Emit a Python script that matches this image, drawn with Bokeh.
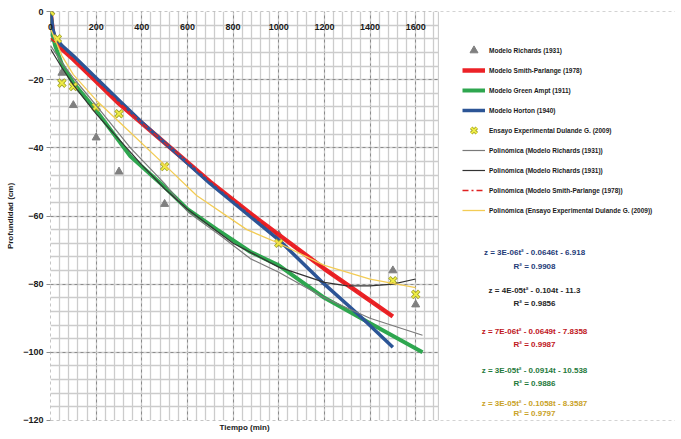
from bokeh.plotting import figure
from bokeh.models import (FixedTicker, Range1d, Legend, LegendItem, Label, LinearAxis,
                          BoxAnnotation)
from bokeh.embed import file_html
from bokeh.resources import INLINE

# ---------------- data ----------------
x_ticks = [0, 200, 400, 600, 800, 1000, 1200, 1400, 1600]
y_ticks = [-120, -100, -80, -60, -40, -20, 0]

t_richards = [0, 20, 50, 100, 200, 300, 500, 1000, 1500, 1600]
z_richards = [0, -8, -18, -27.5, -37, -47, -56.5, -65.5, -76, -86]

t_ensayo = [0, 30, 50, 100, 200, 300, 500, 1000, 1500, 1600]
z_ensayo = [0, -8, -21, -22, -28, -30, -45.5, -68, -79, -83]

t_smith = [0, 10, 20, 50, 100, 200, 300, 500, 700, 900, 1000, 1200, 1350, 1500]
z_smith = [0, -6, -8, -11, -14, -20.5, -27, -38.5, -50, -60.5, -65.5, -75.5, -82.5, -89.5]

t_green = [0, 10, 20, 50, 100, 200, 350, 500, 600, 730, 875, 1000, 1200, 1400, 1630]
z_green = [0, -7, -10, -15.5, -21, -29, -42.5, -51.5, -58, -64, -70.5, -74.5, -84, -91.5, -100]

t_horton = [0, 10, 20, 50, 100, 200, 300, 400, 500, 700, 900, 1000, 1200, 1350, 1500]
z_horton = [0, -5, -7.5, -10, -13, -19.5, -26, -32.5, -38.5, -50.5, -61.5, -67, -80, -89, -98.5]

t_poly_rich1 = [0, 50, 100, 200, 350, 500, 605, 750, 875, 1000, 1200, 1400, 1630]
z_poly_rich1 = [-10, -15, -19.5, -27.5, -40, -50.5, -59, -66, -72.5, -76.5, -84, -90, -95]

t_poly_rich2 = [0, 50, 100, 200, 300, 400, 500, 600, 800, 1000, 1200, 1300, 1400, 1500, 1600]
z_poly_rich2 = [-11, -16.5, -21.5, -30, -37.5, -45, -52, -58, -68, -75, -79.5, -80.5, -80.5, -80, -78.5]

t_poly_smith = [0, 100, 200, 300, 500, 700, 900, 1100, 1300, 1500]
z_poly_smith = [-7.8, -14, -20.5, -26.7, -38.5, -49.8, -60.7, -70.7, -80.3, -89.4]

t_poly_ens = [0, 50, 100, 200, 350, 500, 640, 860, 1000, 1200, 1400, 1600]
z_poly_ens = [-5, -13, -18.5, -26, -35.5, -45, -54, -64, -68, -74.5, -78.5, -81]

legend_labels = [
    "Modelo Richards (1931)",
    "Modelo Smith-Parlange (1978)",
    "Modelo Green Ampt (1911)",
    "Modelo Horton (1940)",
    "Ensayo Experimental Dulande G. (2009)",
    "Polinómica (Modelo Richards (1931))",
    "Polinómica (Modelo Richards (1931))",
    "Polinómica (Modelo Smith-Parlange (1978))",
    "Polinómica (Ensayo Experimental Dulande G. (2009))",
]

equations = [
    ("z = 3E-06t² - 0.0646t - 6.918", "R² = 0.9908", "#1f3c78"),
    ("z = 4E-05t² - 0.104t - 11.3", "R² = 0.9856", "#262626"),
    ("z = 7E-06t² - 0.0649t - 7.8358", "R² = 0.9987", "#c0161c"),
    ("z = 3E-05t² - 0.0914t - 10.538", "R² = 0.9886", "#1f7a3c"),
    ("z = 3E-05t² - 0.1058t - 8.3587", "R² = 0.9797", "#c9a227"),
]

FONT = "Liberation Sans"
T_MAX = 1700                 # right end of the chart area
PX_PER_T = 388 / 1700        # chart area: 388 px for 1700 min
FRAME_W = 625
X_END = FRAME_W / PX_PER_T   # frame continues to the right for legend / equations

p = figure(frame_width=FRAME_W, frame_height=409,
           x_range=Range1d(-0.1, X_END), y_range=Range1d(-120.02, 0.02),
           x_axis_location="above", output_backend="svg", toolbar_location=None,
           min_border_left=50, min_border_right=0, min_border_top=11, min_border_bottom=0)
p.background_fill_color = "white"
p.border_fill_color = "white"
p.outline_line_color = None

p.xaxis.ticker = FixedTicker(ticks=x_ticks, minor_ticks=list(range(40, 1700, 40)) + [T_MAX])
p.yaxis.ticker = FixedTicker(ticks=y_ticks, minor_ticks=list(range(-116, 0, 4)))

for g in (p.xgrid, p.ygrid):
    g.grid_line_color = "#8c8c8c"
    g.grid_line_dash = "3 3"
    g.grid_line_width = 1
    g.minor_grid_line_color = "#cccccc"
    g.minor_grid_line_width = 1.3

xa = p.xaxis[0]
xa.axis_line_color = None
xa.major_tick_out = 0
xa.major_tick_in = 0
xa.minor_tick_out = 0
xa.minor_tick_in = 0
xa.major_label_standoff = -18
xa.major_label_text_font = FONT
xa.major_label_text_font_style = "bold"
xa.major_label_text_font_size = "9px"
xa.major_label_text_color = "#1a1a1a"

ya = p.yaxis[0]
ya.axis_line_color = None
ya.major_tick_out = 4
ya.major_tick_in = 0
ya.major_tick_line_color = "#8c8c8c"
ya.minor_tick_out = 0
ya.minor_tick_in = 0
ya.major_label_standoff = 3
ya.major_label_text_font = FONT
ya.major_label_text_font_style = "bold"
ya.major_label_text_font_size = "9px"
ya.major_label_text_color = "#1a1a1a"
ya.axis_label = "Profundidad (cm)"
ya.axis_label_standoff = 5
ya.axis_label_text_font = FONT
ya.axis_label_text_font_style = "bold"
ya.axis_label_text_font_size = "8px"
ya.axis_label_text_color = "#1a1a1a"

# x title: a bottom axis whose single label sits at the middle of the chart area
mid_t = T_MAX / 2
bx = LinearAxis(ticker=FixedTicker(ticks=[mid_t], minor_ticks=[]),
                major_label_overrides={mid_t: "Tiempo (min)"},
                axis_line_color=None, major_tick_out=0, major_tick_in=0,
                minor_tick_out=0, minor_tick_in=0, major_label_standoff=2,
                major_label_text_font=FONT, major_label_text_font_style="bold",
                major_label_text_font_size="8px", major_label_text_color="#1a1a1a")
p.add_layout(bx, "below")

# blank out the grid to the right of the chart area
p.add_layout(BoxAnnotation(left=T_MAX + 2, fill_color="white", fill_alpha=1.0,
                           line_color=None))

r_rich = p.scatter(t_richards, z_richards, marker="triangle", size=8,
                   fill_color="#7f7f7f", line_color="#7f7f7f")
r_smith = p.line(t_smith, z_smith, line_color="#ec2227", line_width=4.5)
r_green = p.line(t_green, z_green, line_color="#2ea64f", line_width=4)
r_horton = p.line(t_horton, z_horton, line_color="#2c5596", line_width=3.5)
r_ens_o = p.scatter(t_ensayo, z_ensayo, marker="x", size=10, line_color="#a3a32a", line_width=3.5)
r_ens_i = p.scatter(t_ensayo, z_ensayo, marker="x", size=9, line_color="#f0ee45", line_width=1.8)
r_p1 = p.line(t_poly_rich1, z_poly_rich1, line_color="#7a7a7a", line_width=1.2)
r_p2 = p.line(t_poly_rich2, z_poly_rich2, line_color="#333333", line_width=1.2)
r_p3 = p.line(t_poly_smith, z_poly_smith, line_color="#e02020", line_width=1.5, line_dash="6 3 2 3")
r_p4 = p.line(t_poly_ens, z_poly_ens, line_color="#f3cc55", line_width=1.3)

groups = [[r_rich], [r_smith], [r_green], [r_horton], [r_ens_o, r_ens_i],
          [r_p1], [r_p2], [r_p3], [r_p4]]
items = [LegendItem(label=lab, renderers=rs) for lab, rs in zip(legend_labels, groups)]
legend = Legend(items=items, location=(412, 200), padding=0, margin=0,
                glyph_width=23, glyph_height=20, label_height=20, spacing=0,
                label_standoff=4, label_text_font=FONT, label_text_font_style="bold",
                label_text_font_size="6.5px", label_text_color="#1a1a1a",
                border_line_color=None, background_fill_alpha=0)
p.add_layout(legend, "center")

# equation block (page rows converted to chart units)
eq_rows = [(253, 267), (291, 304), (332, 345), (371, 384), (404, 414)]
x_eq = (534 - 50) / PX_PER_T
for (eq, r2, col), rows in zip(equations, eq_rows):
    for txt, yy in zip((eq, r2), rows):
        p.add_layout(Label(x=x_eq, y=-(yy - 12) * 120 / 409, text=txt, text_align="center",
                           text_baseline="middle", text_font=FONT, text_font_style="bold",
                           text_font_size="8px", text_color=col))

open("out.html", "w").write(file_html(p, INLINE))
